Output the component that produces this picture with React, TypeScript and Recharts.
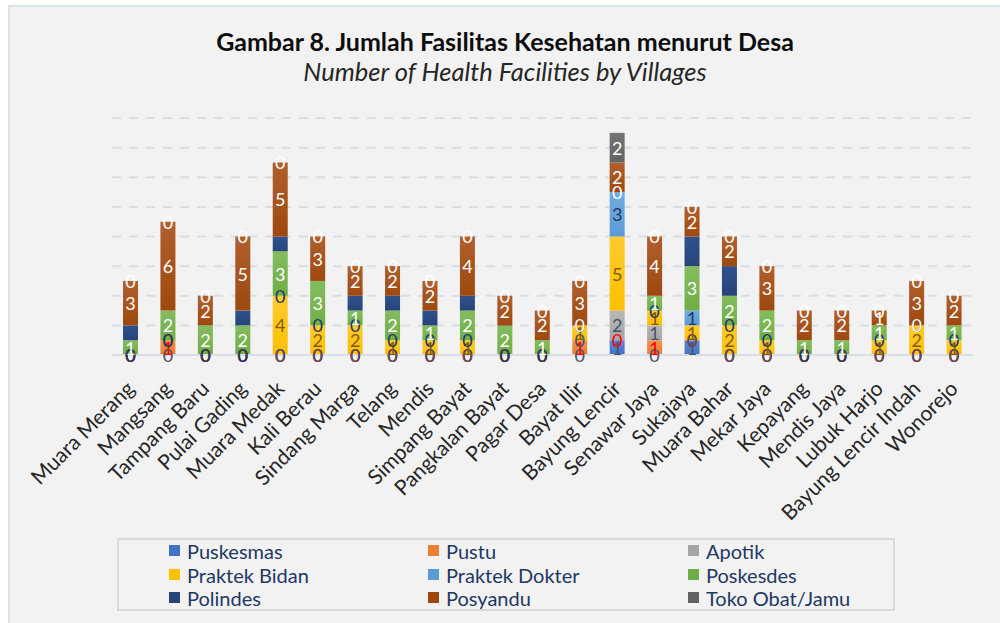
import React from "react";
import { BarChart, Bar, XAxis, YAxis, CartesianGrid, LabelList } from "recharts";

const categories = [
  "Muara Merang", "Mangsang", "Tampang Baru", "Pulai Gading", "Muara Medak", "Kali Berau",
  "Sindang Marga", "Telang", "Mendis", "Simpang Bayat", "Pangkalan Bayat", "Pagar Desa",
  "Bayat Ilir", "Bayung Lencir", "Senawar Jaya", "Sukajaya", "Muara Bahar", "Mekar Jaya",
  "Kepayang", "Mendis Jaya", "Lubuk Harjo", "Bayung Lencir Indah", "Wonorejo",
];

const puskesmas = [0, 0, 0, 0, 0, 0, 0, 0, 0, 0, 0, 0, 0, 1, 0, 1, 0, 0, 0, 0, 0, 0, 0];
const pustu = [0, 1, 0, 0, 0, 0, 0, 0, 0, 0, 0, 0, 1, 0, 1, 0, 0, 0, 0, 0, 0, 0, 0];
const apotik = [0, 0, 0, 0, 0, 0, 0, 0, 0, 0, 0, 0, 0, 2, 1, 0, 0, 0, 0, 0, 0, 0, 0];
const praktekBidan = [0, 0, 0, 0, 4, 2, 2, 1, 1, 1, 0, 0, 1, 5, 1, 1, 2, 1, 0, 0, 1, 2, 1];
const praktekDokter = [0, 0, 0, 0, 0, 0, 0, 0, 0, 0, 0, 0, 0, 3, 0, 1, 0, 0, 0, 0, 0, 0, 0];
const poskesdes = [1, 2, 2, 2, 3, 3, 1, 2, 1, 2, 2, 1, 0, 0, 1, 3, 2, 2, 1, 1, 1, 0, 1];
const polindes = [1, 0, 0, 1, 1, 0, 1, 1, 1, 1, 0, 0, 0, 0, 0, 2, 2, 0, 0, 0, 0, 0, 0];
const posyandu = [3, 6, 2, 5, 5, 3, 2, 2, 2, 4, 2, 2, 3, 2, 4, 2, 2, 3, 2, 2, 1, 3, 2];
const tokoObat = [0, 0, 0, 0, 0, 0, 0, 0, 0, 0, 0, 0, 0, 2, 0, 0, 0, 0, 0, 0, 0, 0, 0];

const yTicks = [0, 2, 4, 6, 8, 10, 12, 14, 16];

const series = [
  { key: "puskesmas", name: "Puskesmas", values: puskesmas, color: "#4472C4", light: "#5B86D4", label: "#44546A" },
  { key: "pustu", name: "Pustu", values: pustu, color: "#ED7D31", light: "#F49150", label: "#FF0000" },
  { key: "apotik", name: "Apotik", values: apotik, color: "#A5A5A5", light: "#B8B8B8", label: "#44546A" },
  { key: "bidan", name: "Praktek Bidan", values: praktekBidan, color: "#FFC000", light: "#FFCB2E", label: "#845C0A" },
  { key: "dokter", name: "Praktek Dokter", values: praktekDokter, color: "#5B9BD5", light: "#71ABE0", label: "#1F3864" },
  { key: "poskesdes", name: "Poskesdes", values: poskesdes, color: "#70AD47", light: "#84BD5E", label: "#FFFFFF" },
  { key: "polindes", name: "Polindes", values: polindes, color: "#264478", light: "#30528E", label: null },
  { key: "posyandu", name: "Posyandu", values: posyandu, color: "#9E480E", light: "#B0602E", label: "#FFFFFF" },
  { key: "toko", name: "Toko Obat/Jamu", values: tokoObat, color: "#636363", light: "#757575", label: "#FFFFFF" },
];

const data = categories.map((c, i) => {
  const row: any = { name: c };
  series.forEach((s) => {
    row[s.key] = s.values[i];
  });
  return row;
});

const FONT = "Lato, 'Liberation Sans', sans-serif";

const makeLabel = (color: string) => (props: any) => {
  const x = Number(props.x);
  const y = Number(props.y);
  const w = Number(props.width);
  const h = Number(props.height);
  return (
    <text
      x={x + w / 2}
      y={y + h / 2}
      fill={color}
      fontSize={18}
      fontFamily={FONT}
      textAnchor="middle"
      dominantBaseline="central"
    >
      {String(props.value)}
    </text>
  );
};

const Tick = (props: any) => {
  const { x, y, payload } = props;
  return (
    <g transform={`translate(${x + 5},${y + 27}) rotate(-45)`}>
      <text x={0} y={0} textAnchor="end" fill="#262626" fontSize={21} fontFamily={FONT}>
        {payload.value}
      </text>
    </g>
  );
};

const legendCols = [169, 428, 688];
const legendRows = [551, 575, 598];

export default function App() {
  return (
    <div style={{ position: "absolute", left: 0, top: 0, width: 1000, height: 623, background: "#FFFFFF", overflow: "hidden", fontFamily: FONT }}>
      <div style={{ position: "absolute", left: 8, top: 5, width: 1000, height: 700, background: "#F2F2F2", border: "2px solid #DCE2EA", boxSizing: "border-box" }} />
      <svg width={1000} height={623} style={{ position: "absolute", left: 0, top: 0 }}>
        <text x={505} y={51} textAnchor="middle" fontSize={25} fontWeight="bold" fill="#0D0D0D" fontFamily={FONT}>
          Gambar 8. Jumlah Fasilitas Kesehatan menurut Desa
        </text>
        <text x={505} y={81} textAnchor="middle" fontSize={25.5} fontStyle="italic" fill="#262626" fontFamily={FONT}>
          Number of Health Facilities by Villages
        </text>
      </svg>
      <div style={{ position: "absolute", left: 0, top: 0 }}>
        <BarChart width={1000} height={623} data={data} margin={{ top: 118, right: 27, left: 112, bottom: 168 }} barSize={15}>
          <defs>
            {series.map((s) => (
              <linearGradient key={s.key} id={`g-${s.key}`} x1="0" y1="0" x2="0" y2="1">
                <stop offset="0%" stopColor={s.light} />
                <stop offset="100%" stopColor={s.color} />
              </linearGradient>
            ))}
          </defs>
          <CartesianGrid vertical={false} stroke="#D9DEE6" strokeWidth={2} strokeDasharray="9 8" />
          <XAxis dataKey="name" interval={0} tickLine={false} axisLine={{ stroke: "#D9DEE6", strokeWidth: 2 }} height={100} tick={<Tick />} />
          <YAxis hide domain={[0, 16]} ticks={yTicks} />
          {series.map((s) => (
            <Bar key={s.key} dataKey={s.key} name={s.name} stackId="a" fill={`url(#g-${s.key})`} minPointSize={0.01} isAnimationActive={false}>
              {s.label ? <LabelList dataKey={s.key} content={makeLabel(s.label)} /> : null}
            </Bar>
          ))}
        </BarChart>
      </div>
      <svg width={1000} height={623} style={{ position: "absolute", left: 0, top: 0, pointerEvents: "none" }}>
        <rect x={118} y={539} width={776} height={71} fill="none" stroke="#D9D9D9" strokeWidth={2} />
        {series.map((s, i) => {
          const cx = legendCols[i % 3];
          const cy = legendRows[Math.floor(i / 3)];
          return (
            <g key={s.key}>
              <rect x={cx} y={cy - 6} width={11} height={11} fill={s.color} />
              <text x={cx + 18} y={cy} dominantBaseline="central" fontSize={20} fill="#1F3864" fontFamily={FONT}>
                {s.name}
              </text>
            </g>
          );
        })}
      </svg>
    </div>
  );
}
